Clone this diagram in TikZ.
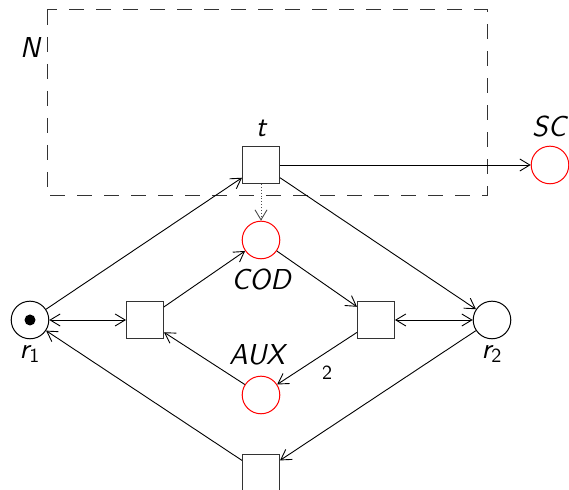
\documentclass[tikz,border=0pt]{standalone}
\usepackage{tikz}
\usetikzlibrary{arrows.meta}

\begin{document}
\begin{tikzpicture}[
      x = 0.5pt, y = -0.5pt, font = \Large\sffamily,
      trans/.style  = {draw = black!80, rectangle, minimum size = 18.5pt, inner sep = 0pt, line width = .5pt},
      place/.style  = {draw = black, circle, minimum size = 18.8pt, inner sep = 0pt, line width = .5pt},
      rplace/.style = {place, draw = red},
      token/.style  = {circle, fill = black, minimum size = 5.5pt, inner sep = 0pt},
      arc/.style    = {-{Straight Barb[length = 5pt, width = 6pt]}, line width = .45pt},
      barc/.style   = {{Straight Barb[length = 5pt, width = 6pt]}-{Straight Barb[length = 5pt, width = 6pt]}, line width = .45pt},
      inh/.style    = {-{Straight Barb[length = 5pt, width = 6pt]}, line width = .45pt, densely dotted, black!70},
      frame/.style  = {draw = black!80, line width = .5pt, dash pattern = on 7.5pt off 6pt},
      lab/.style    = {inner sep = 1pt, font = \Large\sffamily\itshape},
      wgt/.style    = {inner sep = 1pt, font = \normalsize\sffamily}
    ]
  \clip (0,0) rectangle (569,490);

  % subnet ---------------------------------------------------------------
  \draw[frame] (47,10) rectangle (487,196);
    \node[lab] (nlab) at (30,48) {N};

  % places ---------------------------------------------------------------
  \node[place]  (r1)  at (30,320)  {};
    \node[token] (tok) at (r1) {};
  \node[place]  (r2)  at (492,320) {};
  \node[rplace] (sc)  at (550,165) {};
  \node[rplace] (cod) at (261,240) {};
  \node[rplace] (aux) at (261,395) {};

  \node[lab] (r1lab)  at (30,354)  {r\textsubscript{\upshape 1}};
  \node[lab] (r2lab)  at (492,354) {r\textsubscript{\upshape 2}};
  \node[lab] (sclab)  at (549,127) {SC};
  \node[lab] (codlab) at (261,280) {COD};
  \node[lab] (auxlab) at (257,355) {AUX};

  % transitions ----------------------------------------------------------
  \node[trans] (t)   at (261,165) {};
  \node[trans] (tl)  at (145,320) {};
  \node[trans] (tr)  at (376,320) {};
  \node[trans] (tb)  at (261,473) {};
    \node[lab] (tlab) at (261,128) {t};

  % arcs -----------------------------------------------------------------
  \draw[arc] (r1) -- (t);
  \draw[arc] (t) -- (sc);
  \draw[arc] (t) -- (r2);
  \draw[inh] (t) -- (cod);

  \draw[barc] (r1) -- (tl);
  \draw[barc] (tr) -- (r2);
  \draw[arc] (tl) -- (cod);
  \draw[arc] (cod) -- (tr);
  \draw[arc] (tr) -- (aux);
    \node[wgt] (w2) at (327,373) {2};
  \draw[arc] (aux) -- (tl);

  \draw[arc] (r2) -- (tb);
  \draw[arc] (tb) -- (r1);

  \end{tikzpicture}
\end{document}
